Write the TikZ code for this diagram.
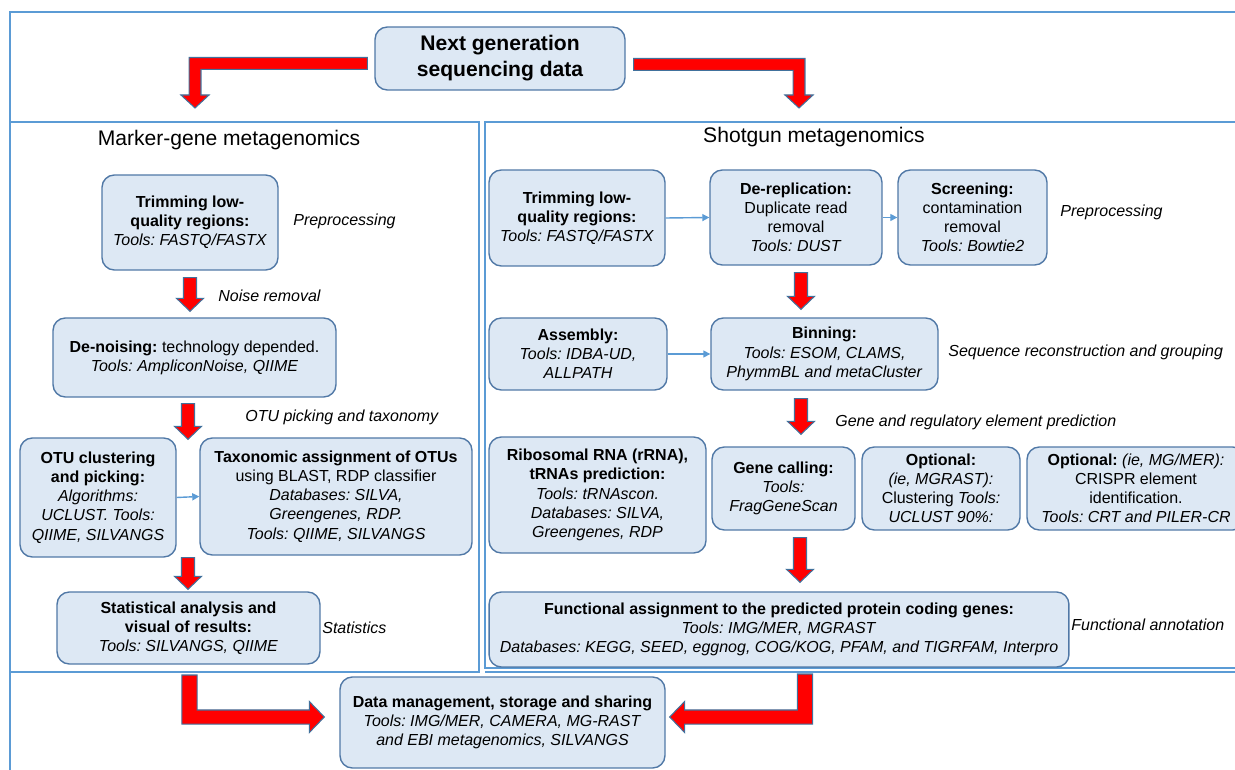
\documentclass[tikz,border=0pt]{standalone}
\usepackage{fontspec}
\setmainfont{Liberation Sans}
\frenchspacing
\usetikzlibrary{calc}
\usetikzlibrary{arrows.meta}
\usetikzlibrary{positioning}

\definecolor{boxfill}{HTML}{DDE8F4}
\definecolor{boxline}{HTML}{5078A6}
\definecolor{framecol}{HTML}{5B9BD5}
\definecolor{arrline}{HTML}{41719C}

\newcommand{\boxfont}{\fontsize{9.1}{10.9}\selectfont}

\tikzset{
  box/.style={draw=boxline, fill=boxfill, line width=.8pt, rounded corners=7pt,
    align=center, inner sep=0pt, font=\boxfont},
  frame/.style={draw=framecol, line width=.8pt},
  lab/.style={font=\boxfont\itshape, anchor=west, inner sep=0pt},
  paneltitle/.style={font=\fontsize{12}{14}\selectfont, inner sep=0pt},
  redarrow/.style={fill=red, draw=arrline, line width=.6pt, line join=miter},
  thin/.style={draw=framecol, line width=.8pt, -{Triangle[length=4pt,width=4pt]}}
}

% straight block arrow, x taken from the start point
\newcommand{\redDown}[2]{%
  \filldraw[redarrow] let \p1=#1, \p2=#2 in
  (\x1-3.7pt,\y1) -- (\x1+3.7pt,\y1) -- (\x1+3.7pt,\y2+7.4pt) -- (\x1+7.7pt,\y2+7.4pt)
  -- (\x1,\y2) -- (\x1-7.7pt,\y2+7.4pt) -- (\x1-3.7pt,\y2+7.4pt) -- cycle;}
% bent block arrow: across, then down (#3 = 1 going right, -1 going left)
\newcommand{\redBendHV}[3]{%
  \filldraw[redarrow] let \p1=#1, \p2=#2 in
  (\x1,\y1+3.4pt) -- ({\x2+#3*3.4pt},\y1+3.4pt) -- ({\x2+#3*3.4pt},\y2+7.4pt) -- ({\x2+#3*8pt},\y2+7.4pt)
  -- (\x2,\y2) -- ({\x2-#3*8pt},\y2+7.4pt) -- ({\x2-#3*3.4pt},\y2+7.4pt) -- ({\x2-#3*3.4pt},\y1-3.4pt)
  -- (\x1,\y1-3.4pt) -- cycle;}
% bent block arrow: down, then across
\newcommand{\redBendVH}[3]{%
  \filldraw[redarrow] let \p1=#1, \p2=#2 in
  ({\x1-#3*4.3pt},\y1) -- ({\x1-#3*4.3pt},\y2-4pt) -- ({\x2-#3*8.5pt},\y2-4pt) -- ({\x2-#3*8.5pt},\y2-8.8pt)
  -- (\x2,\y2) -- ({\x2-#3*8.5pt},\y2+8.8pt) -- ({\x2-#3*8.5pt},\y2+4pt) -- ({\x1+#3*4.3pt},\y2+4pt)
  -- ({\x1+#3*4.3pt},\y1) -- cycle;}

\begin{document}
\begin{tikzpicture}[x=0.02cm, y=-0.02cm]
\useasboundingbox (0,0) rectangle (1235,770);

% frames
\draw[frame] (1250,12) -- (10,12) -- (10,780);
\draw[frame] (10,122) rectangle (479,672);
\draw[frame] (485,122) rectangle (1250,668);
\draw[frame] (485,672) -- (1250,672);

% top
\node[box, font=\fontsize{12}{14.8}\selectfont\bfseries, minimum width=5cm, minimum height=1.26cm]
  (top) at (500,58.5) {Next generation\\sequencing data};

% marker-gene side
\node[paneltitle] (mtitle) at (229,140) {Marker-gene metagenomics};
\node[box, minimum width=3.52cm, minimum height=1.9cm] (L1) at (190,222.5)
  {\textbf{Trimming low-}\\\textbf{quality regions:}\\\textit{Tools: FASTQ/FASTX}};
\node[box, minimum width=5.66cm, minimum height=1.58cm] (L2) at (194.5,357.5)
  {\textbf{De-noising:} technology depended.\\\textit{Tools: AmpliconNoise, QIIME}};
\node[box, minimum width=3.12cm, minimum height=2.38cm] (L3) at (98,497.5)
  {\textbf{OTU clustering}\\\textbf{and picking:}\\\textit{Algorithms:}\\\textit{UCLUST. Tools:}\\\textit{QIIME, SILVANGS}};
\node[box, minimum width=5.44cm, minimum height=2.34cm] (L4) at (336,496.5)
  {\textbf{Taxonomic assignment of OTUs}\\using BLAST, RDP classifier\\\textit{Databases: SILVA,}\\\textit{Greengenes, RDP.}\\\textit{Tools: QIIME, SILVANGS}};
\node[box, minimum width=5.26cm, minimum height=1.44cm] (L5) at (188.5,628)
  {\textbf{Statistical analysis and}\\\textbf{visual of results:}\\\textit{Tools: SILVANGS, QIIME}};
\coordinate (otu) at ($(L3.north east)!0.5!(L4.north west)$);

\node[lab] (lpre) at (293,221) {Preprocessing};
\node[lab] (lnoise) at (218,296) {Noise removal};
\node[lab] (lotu) at (245,417) {OTU picking and taxonomy};
\node[lab] (lstat) at (322,628) {Statistics};

% shotgun side
\node[paneltitle] (stitle) at (814,137) {Shotgun metagenomics};
\node[box, minimum width=3.52cm, minimum height=1.92cm] (R1) at (577,218)
  {\textbf{Trimming low-}\\\textbf{quality regions:}\\\textit{Tools: FASTQ/FASTX}};
\node[box, minimum width=3.44cm, minimum height=1.9cm] (R2) at (796,217.5)
  {\textbf{De-replication:}\\Duplicate read\\removal\\\textit{Tools: DUST}};
\node[box, minimum width=2.98cm, minimum height=1.9cm] (R3) at (972.5,217.5)
  {\textbf{Screening:}\\contamination\\removal\\\textit{Tools: Bowtie2}};
\node[box, minimum width=3.56cm, minimum height=1.44cm] (R4) at (578,354)
  {\textbf{Assembly:}\\\textit{Tools: IDBA-UD,}\\\textit{ALLPATH}};
\node[box, minimum width=4.54cm, minimum height=1.44cm] (R5) at (824.5,354)
  {\textbf{Binning:}\\\textit{Tools: ESOM, CLAMS,}\\\textit{PhymmBL and metaCluster}};
\node[box, minimum width=4.34cm, minimum height=2.32cm] (R6) at (597.5,495)
  {\textbf{Ribosomal RNA (rRNA),}\\\textbf{tRNAs prediction:}\\\textit{Tools: tRNAscon.}\\\textit{Databases: SILVA,}\\\textit{Greengenes, RDP}};
\node[box, minimum width=2.86cm, minimum height=1.66cm] (R7) at (783.5,488.5)
  {\textbf{Gene calling:}\\\textit{Tools:}\\\textit{FragGeneScan}};
\node[box, minimum width=3.16cm, minimum height=1.66cm] (R8) at (941,488.5)
  {\textbf{Optional:}\\\textit{(ie, MGRAST):}\\Clustering \textit{Tools:}\\\textit{UCLUST 90\%:}};
\node[box, minimum width=4.36cm, minimum height=1.66cm] (R9) at (1136,488.5)
  {\textbf{Optional:} \textit{(ie, MG/MER):}\\CRISPR element\\identification.\\\textit{Tools: CRT and PILER-CR}};
\node[box, minimum width=11.6cm, minimum height=1.5cm] (R10) at (779,629.5)
  {\textbf{Functional assignment to the predicted protein coding genes:}\\\textit{Tools: IMG/MER, MGRAST}\\\textit{Databases: KEGG, SEED, eggnog, COG/KOG, PFAM, and TIGRFAM, Interpro}};

\node[lab] (rpre) at (1060,212) {Preprocessing};
\node[lab] (rseq) at (948,352) {Sequence reconstruction and grouping};
\node[lab] (rgene) at (835,422) {Gene and regulatory element prediction};
\node[lab] (rfun) at (1071,625) {Functional annotation};

% bottom
\node[box, minimum width=6.5cm, minimum height=1.82cm] (B) at (502.5,722.5)
  {\textbf{Data management, storage and sharing}\\\textit{Tools: IMG/MER, CAMERA, MG-RAST}\\\textit{and EBI metagenomics, SILVANGS}};

% thin connectors
\draw[thin] (L3.east) -- (L4.west);
\draw[thin] (R1.east) -- (R2.west);
\draw[thin] (R2.east) -- (R3.west);
\draw[thin] (R4.east) -- (R5.west);

% red arrows
\coordinate (tipL) at (195,108);
\coordinate (tipR) at (799,108);
\coordinate (fromM) at (189.5,675);
\coordinate (fromS) at (805,674);
\redBendHV{($(top.west)+(-7,5)$)}{(tipL)}{-1}
\redBendHV{($(top.east)+(8,6)$)}{(tipR)}{1}
\redDown{($(L1.south)+(0,7)$)}{($(L2.north)+(0,-6)$)}
\redDown{($(otu |- L2.south)+(0,6)$)}{($(otu)+(0,2)$)}
\redDown{(otu |- L3.south)}{($(L5.north)+(0,-2)$)}
\redDown{($(R2.south)+(5,7)$)}{($(R5.north)+(0,-8)$)}
\redDown{($(R2.south |- R5.south)+(5,8)$)}{($(R7.north)+(0,-12)$)}
\redDown{($(R7.south)+(16.5,7)$)}{($(R10.north)+(0,-9)$)}
\redBendVH{(fromM)}{($(B.west)+(-15,-5.5)$)}{1}
\redBendVH{(fromS)}{($(B.east)+(4,-5.5)$)}{-1}
\end{tikzpicture}
\end{document}
